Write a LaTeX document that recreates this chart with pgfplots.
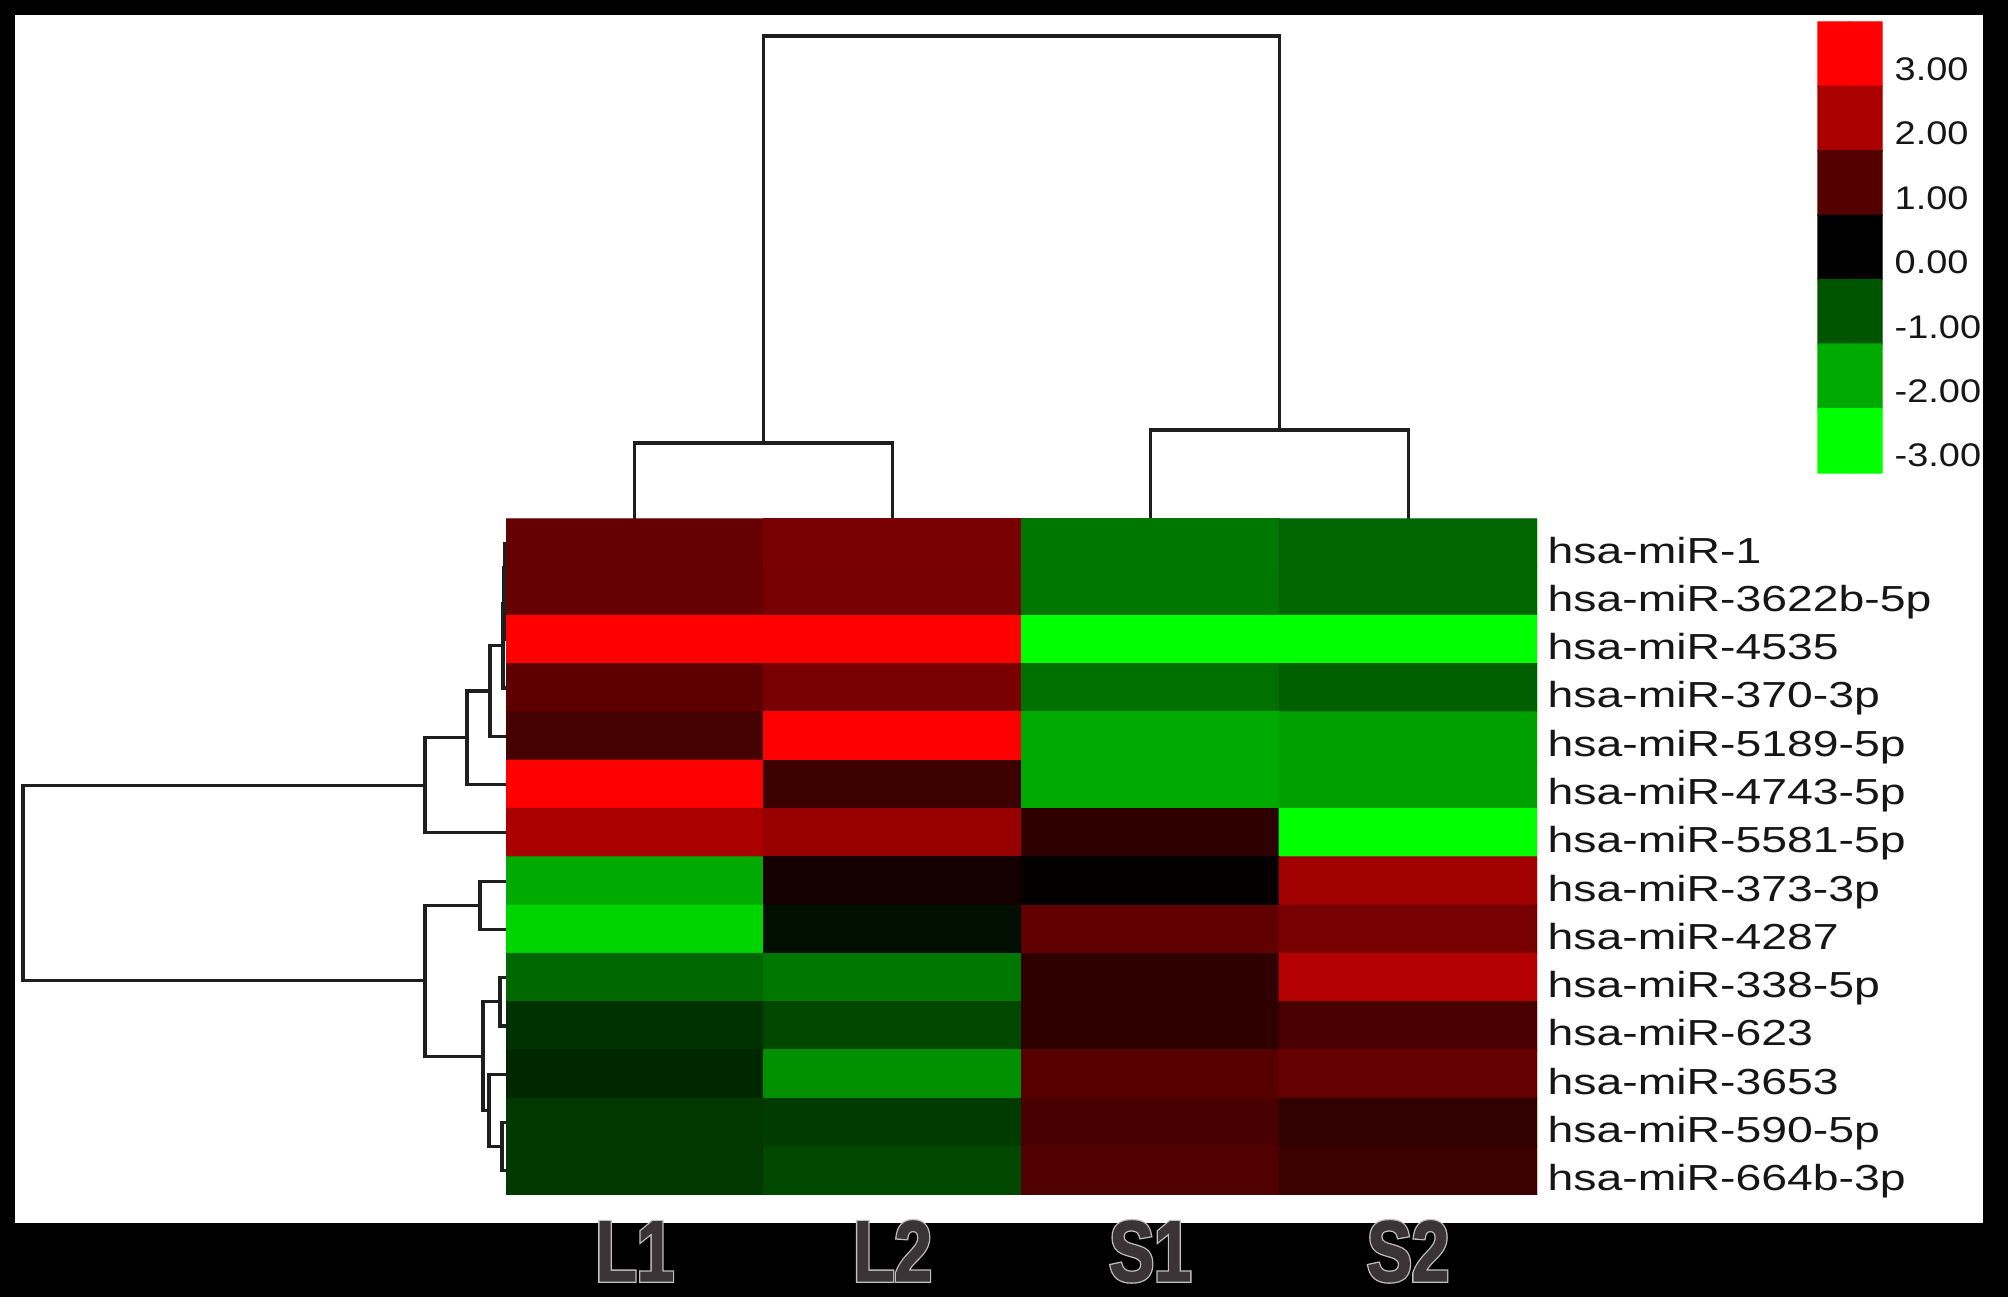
\documentclass[border=0pt]{standalone}
\usepackage{pgfplots}
\pgfplotsset{compat=1.18}
\usepackage{fontspec}
\setmainfont{Liberation Sans}
\newfontfamily\rowfont{Liberation Sans}[FakeStretch=1.28]
\newfontfamily\legfont{Liberation Sans}[FakeStretch=1.16]
\newfontfamily\labfont{Liberation Sans}[FakeStretch=0.78, BoldFeatures={FakeBold=1.5}]
\newfontfamily\halofont{Liberation Sans}[FakeStretch=0.78, BoldFeatures={FakeBold=4.5}]

\definecolor{labc}{HTML}{3A3437}
\definecolor{halo}{HTML}{C4BFC2}
\definecolor{dline}{HTML}{1E1E1E}
\definecolor{txt}{HTML}{161616}

\pgfplotsset{
  colormap={rg}{rgb255(0cm)=(0,255,0); rgb255(1cm)=(0,0,0); rgb255(2cm)=(255,0,0)},
  dendro/.style={draw=dline, line width=0.9pt, mark=none, line join=miter, forget plot},
}
\newcommand{\collab}[1]{\makebox[0pt][l]{\textcolor{halo}{\halofont\bfseries #1}}\textcolor{labc}{\labfont\bfseries #1}}
\newcommand{\leg}[1]{{\legfont\fontsize{9.3pt}{11pt}\selectfont #1}}

\begin{document}
\begin{tikzpicture}
% whole canvas in pixel units of the reference (y downwards)
\begin{axis}[
  at={(0,0)}, anchor=south west,
  width=200.8mm, height=129.7mm, scale only axis,
  xmin=0, xmax=2008, ymin=0, ymax=1297, y dir=reverse,
  axis lines=none, ticks=none, clip=false,
  point meta min=-3, point meta max=3,
]
\fill[black] (0,0) rectangle (2008,1297);
\fill[white] (15,15) rectangle (1983,1223);

% column dendrogram
\addplot[dendro] coordinates {(634.9,519) (634.9,443) (892.6,443) (892.6,519)};
\addplot[dendro] coordinates {(1150.4,519) (1150.4,430) (1408.1,430) (1408.1,519)};
\addplot[dendro] coordinates {(763.8,443) (763.8,36) (1279.3,36) (1279.3,430)};

% row dendrogram
\addplot[dendro] coordinates {(506,543.1) (504.5,543.1) (504.5,591.4) (506,591.4)};
\addplot[dendro] coordinates {(504.5,567.3) (504,567.3) (504,639.7) (506,639.7)};
\addplot[dendro] coordinates {(504,603.5) (503,603.5) (503,688.0) (506,688.0)};
\addplot[dendro] coordinates {(503,645.7) (490,645.7) (490,736.3) (506,736.3)};
\addplot[dendro] coordinates {(490,691.0) (467,691.0) (467,784.6) (506,784.6)};
\addplot[dendro] coordinates {(467,737.8) (425,737.8) (425,832.9) (506,832.9)};
\addplot[dendro] coordinates {(506,881.1) (480,881.1) (480,929.4) (506,929.4)};
\addplot[dendro] coordinates {(506,977.7) (500,977.7) (500,1026.0) (506,1026.0)};
\addplot[dendro] coordinates {(506,1122.6) (502,1122.6) (502,1170.9) (506,1170.9)};
\addplot[dendro] coordinates {(506,1074.3) (489,1074.3) (489,1146.8) (502,1146.8)};
\addplot[dendro] coordinates {(500,1001.9) (483,1001.9) (483,1110.5) (489,1110.5)};
\addplot[dendro] coordinates {(480,905.3) (425,905.3) (425,1056.2) (483,1056.2)};
\addplot[dendro] coordinates {(425,785.4) (23,785.4) (23,980.8) (425,980.8)};

% colour key
\addplot[matrix plot*, mesh/cols=2, point meta=explicit, forget plot] table[meta=v] {
x y v
1834 54.2 3
1866 54.2 3
1834 118.6 2
1866 118.6 2
1834 183.1 1
1866 183.1 1
1834 247.5 0
1866 247.5 0
1834 311.9 -1
1866 311.9 -1
1834 376.4 -2
1866 376.4 -2
1834 440.8 -3
1866 440.8 -3
};
\node[anchor=base west, inner sep=0pt, text=txt] at (1894,80.4) {\leg{3.00}};
\node[anchor=base west, inner sep=0pt, text=txt] at (1894,144.9) {\leg{2.00}};
\node[anchor=base west, inner sep=0pt, text=txt] at (1894,209.3) {\leg{1.00}};
\node[anchor=base west, inner sep=0pt, text=txt] at (1894,273.7) {\leg{0.00}};
\node[anchor=base west, inner sep=0pt, text=txt] at (1894,338.1) {\leg{-1.00}};
\node[anchor=base west, inner sep=0pt, text=txt] at (1894,402.6) {\leg{-2.00}};
\node[anchor=base west, inner sep=0pt, text=txt] at (1894,467.0) {\leg{-3.00}};
\fill[black] (1983,0) rectangle (2008,1297);
\end{axis}

% heat map
\begin{axis}[
  at={(50.6mm,10.2mm)}, anchor=south west,
  width=103.1mm, height=67.6mm, scale only axis,
  xmin=-0.5, xmax=3.5, ymin=-0.5, ymax=13.5, y dir=reverse,
  axis line style={draw=none}, tick style={draw=none},
  point meta min=-3, point meta max=3,
  xtick={0,1,2,3},
  xticklabels={\collab{L1},\collab{L2},\collab{S1},\collab{S2}},
  xticklabel style={anchor=base, inner sep=0pt, yshift=-8.6mm,
    font=\fontsize{24.5pt}{26pt}\selectfont},
  ytick={0,1,2,3,4,5,6,7,8,9,10,11,12,13},
  yticklabels={hsa-miR-1,hsa-miR-3622b-5p,hsa-miR-4535,hsa-miR-370-3p,hsa-miR-5189-5p,
    hsa-miR-4743-5p,hsa-miR-5581-5p,hsa-miR-373-3p,hsa-miR-4287,hsa-miR-338-5p,
    hsa-miR-623,hsa-miR-3653,hsa-miR-590-5p,hsa-miR-664b-3p},
  yticklabel pos=right,
  yticklabel style={anchor=base west, inner sep=0pt, xshift=1mm, yshift=-2.0mm,
    text=txt, font=\rowfont\fontsize{10.3pt}{12pt}\selectfont},
]
\addplot[matrix plot*, mesh/cols=4, point meta=explicit] table[meta=v] {
x y v
0 0 1.20
1 0 1.41
2 0 -1.41
3 0 -1.20
0 1 1.21
1 1 1.40
2 1 -1.40
3 1 -1.21
0 2 3.00
1 2 3.00
2 2 -3.00
3 2 -3.00
0 3 1.12
1 3 1.41
2 3 -1.32
3 3 -1.13
0 4 0.81
1 4 3.00
2 4 -2.00
3 4 -1.88
0 5 3.00
1 5 0.71
2 5 -2.00
3 5 -1.88
0 6 2.00
1 6 1.79
2 6 0.56
3 6 -3.00
0 7 -2.00
1 7 0.24
2 7 0.06
3 7 1.88
0 8 -2.50
1 8 -0.18
2 8 1.13
3 8 1.41
0 9 -1.22
1 9 -1.41
2 9 0.56
3 9 2.13
0 10 -0.59
1 10 -0.85
2 10 0.56
3 10 0.88
0 11 -0.47
1 11 -1.69
2 11 1.04
3 11 1.20
0 12 -0.66
1 12 -0.71
2 12 0.85
3 12 0.59
0 13 -0.66
1 13 -0.85
2 13 0.94
3 13 0.71
};
\end{axis}
\end{tikzpicture}
\end{document}
